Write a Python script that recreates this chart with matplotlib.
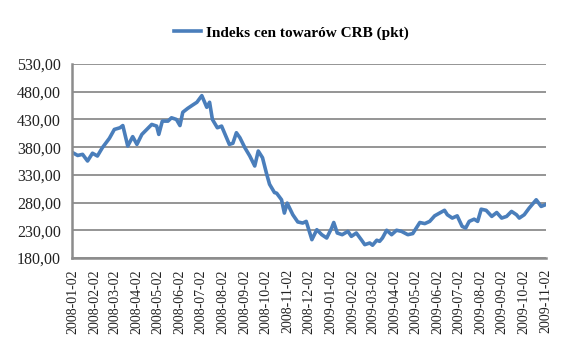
import pandas as pd
import matplotlib
matplotlib.use("Agg")
import matplotlib.pyplot as plt
from matplotlib.ticker import FuncFormatter

# CRB index, values (roughly weekly)
dates = [
    "2008-01-02", "2008-01-09", "2008-01-16", "2008-01-23", "2008-01-30",
    "2008-02-06", "2008-02-13", "2008-02-23", "2008-03-01", "2008-03-09",
    "2008-03-13", "2008-03-20", "2008-03-27", "2008-04-02", "2008-04-09",
    "2008-04-16", "2008-04-23", "2008-04-30", "2008-05-03", "2008-05-08",
    "2008-05-16", "2008-05-21", "2008-05-28", "2008-06-02", "2008-06-06",
    "2008-06-13", "2008-06-20", "2008-06-26", "2008-07-03", "2008-07-10",
    "2008-07-14", "2008-07-18", "2008-07-25", "2008-07-31", "2008-08-07",
    "2008-08-11", "2008-08-16", "2008-08-21", "2008-08-26", "2008-09-02",
    "2008-09-09", "2008-09-16", "2008-09-21", "2008-09-27", "2008-10-03",
    "2008-10-07", "2008-10-14", "2008-10-17", "2008-10-24", "2008-10-28",
    "2008-11-01", "2008-11-09", "2008-11-16", "2008-11-23", "2008-11-28",
    "2008-12-06", "2008-12-13", "2008-12-20", "2008-12-27", "2009-01-03",
    "2009-01-06", "2009-01-11", "2009-01-18", "2009-01-26", "2009-01-31",
    "2009-02-07", "2009-02-14", "2009-02-19", "2009-02-26", "2009-03-02",
    "2009-03-08", "2009-03-12", "2009-03-16", "2009-03-22", "2009-03-29",
    "2009-04-05", "2009-04-12", "2009-04-21", "2009-04-28", "2009-05-03",
    "2009-05-08", "2009-05-15", "2009-05-22", "2009-05-29", "2009-06-05",
    "2009-06-12", "2009-06-16", "2009-06-23", "2009-06-30", "2009-07-07",
    "2009-07-12", "2009-07-17", "2009-07-24", "2009-07-29", "2009-08-03",
    "2009-08-10", "2009-08-18", "2009-08-25", "2009-09-01", "2009-09-08",
    "2009-09-15", "2009-09-22", "2009-09-26", "2009-10-03", "2009-10-10",
    "2009-10-20", "2009-10-27", "2009-11-02",
]
crb = [
    370, 365, 367, 355, 369, 364, 379, 396, 412, 415,
    419, 382, 399, 385, 403, 412, 421, 418, 403, 427,
    427, 433, 430, 419, 443, 450, 456, 461, 473, 452,
    461, 430, 415, 418, 397, 385, 387, 406, 397, 379,
    364, 346, 373, 361, 331, 313, 298, 297, 285, 261,
    279, 258, 245, 243, 246, 213, 231, 222, 216, 234,
    244, 225, 222, 228, 219, 225, 213, 204, 207, 203,
    212, 210, 216, 230, 222, 230, 228, 222, 224, 234,
    244, 242, 246, 256, 261, 266, 258, 252, 256, 237,
    234, 246, 250, 246, 268, 266, 255, 262, 252, 255,
    264, 258, 252, 258, 270, 285, 273, 276,
]
y_ticks = [180, 230, 280, 330, 380, 430, 480, 530]
tick_dates = pd.date_range("2008-01-01", "2009-11-01", freq="MS") + pd.Timedelta(days=1)

x = pd.to_datetime(dates)

fig = plt.figure(figsize=(5.86, 3.5), dpi=100)
ax = fig.add_axes([0.1229, 0.263, 0.809, 0.554])

line, = ax.plot(x, crb, color="#4a7ebb", linewidth=2.6, solid_joinstyle="round",
                label="Indeks cen towarów CRB (pkt)")

ax.set_ylim(180, 530)
ax.set_yticks(y_ticks)
ax.yaxis.set_major_formatter(FuncFormatter(lambda v, p: f"{v:.2f}".replace(".", ",")))
ax.set_xlim(pd.Timestamp("2008-01-01"), pd.Timestamp("2009-11-03"))
ax.set_xticks(tick_dates)
ax.set_xticklabels([d.strftime("%Y-%m-%d") for d in tick_dates], rotation=90)

ax.grid(axis="y", color="#8c8c8c", linewidth=1.3)
ax.set_axisbelow(True)
for s in ("top", "right"):
    ax.spines[s].set_visible(False)
for s in ("left", "bottom"):
    ax.spines[s].set_color("#8c8c8c")
    ax.spines[s].set_linewidth(1.8)
ax.tick_params(length=0, pad=8)
for lbl in ax.get_yticklabels():
    lbl.set_fontfamily("Liberation Serif")
    lbl.set_fontsize(11.5)
    lbl.set_color("#222222")
for lbl in ax.get_xticklabels():
    lbl.set_fontfamily("Liberation Serif")
    lbl.set_fontsize(10)
    lbl.set_color("#222222")

fig.legend(handles=[line], loc="center", bbox_to_anchor=(0.497, 0.906),
           frameon=False, handlelength=1.8, handletextpad=0.3,
           prop={"family": "Liberation Serif", "weight": "bold", "size": 11})

fig.savefig("out.png", dpi=100)
